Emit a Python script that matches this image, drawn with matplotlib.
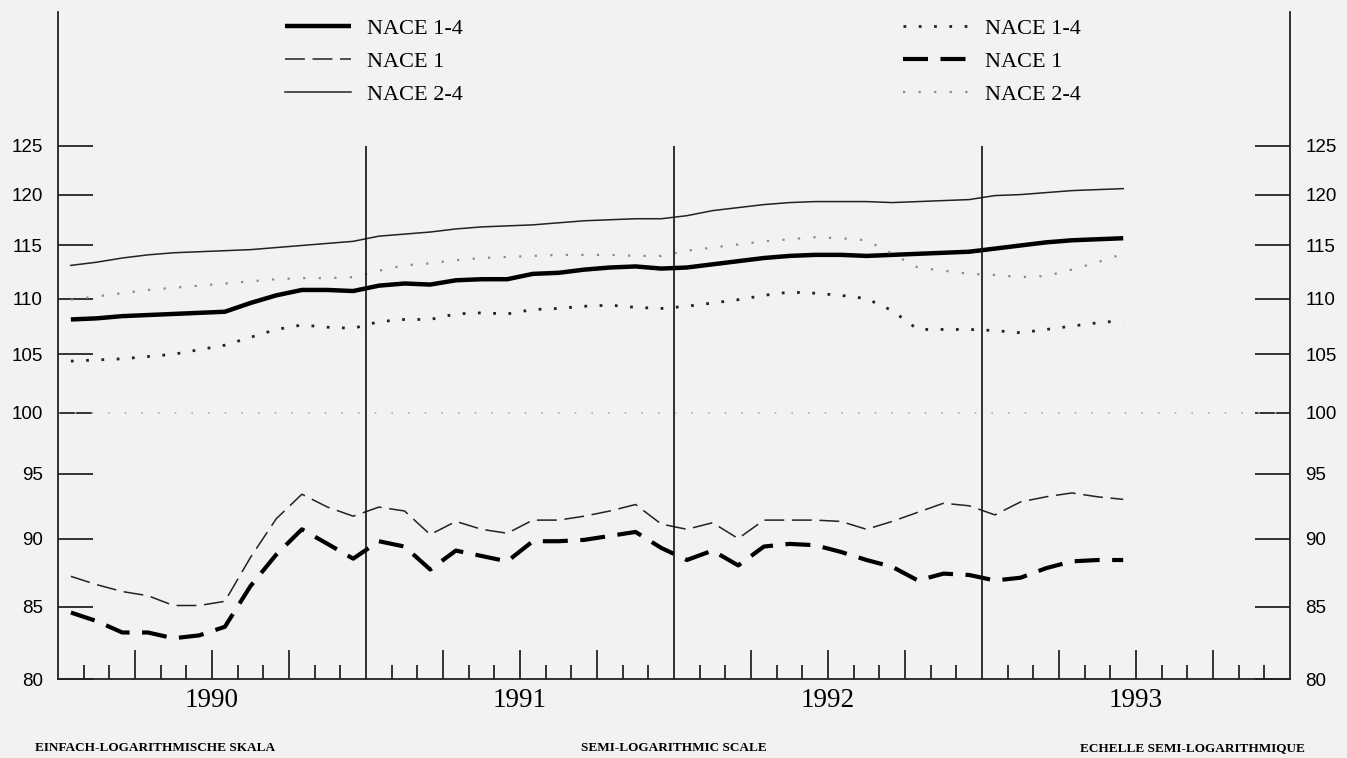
import numpy as np
import matplotlib
matplotlib.use("Agg")
import matplotlib.pyplot as plt
from matplotlib.ticker import FixedLocator, NullFormatter

# ── data: monthly index values, Jan 1990 .. Jun 1993 ─────────────────
years = ["1990", "1991", "1992", "1993"]
series_labels = ["NACE 1-4", "NACE 1", "NACE 2-4"]
y_ticks = [80, 85, 90, 95, 100, 105, 110, 115, 120, 125]

# group A (left legend): thick solid / thin dashed / thin solid
a_nace14 = [108.1, 108.2, 108.4, 108.5, 108.6, 108.7, 108.8, 109.6, 110.3, 110.8,
            110.8, 110.7, 111.2, 111.4, 111.3, 111.7, 111.8, 111.8, 112.3, 112.4,
            112.7, 112.9, 113.0, 112.8, 112.9, 113.2, 113.5, 113.8, 114.0, 114.1,
            114.1, 114.0, 114.1, 114.2, 114.3, 114.4, 114.7, 115.0, 115.3, 115.5,
            115.6, 115.7]
a_nace1 = [87.2, 86.6, 86.1, 85.8, 85.1, 85.1, 85.4, 88.6, 91.5, 93.4,
           92.4, 91.7, 92.4, 92.1, 90.3, 91.3, 90.7, 90.4, 91.4, 91.4,
           91.7, 92.1, 92.6, 91.1, 90.7, 91.2, 90.0, 91.4, 91.4, 91.4,
           91.3, 90.7, 91.3, 92.0, 92.7, 92.5, 91.8, 92.8, 93.2, 93.5,
           93.2, 93.0]
a_nace24 = [113.1, 113.4, 113.8, 114.1, 114.3, 114.4, 114.5, 114.6, 114.8, 115.0,
            115.2, 115.4, 115.9, 116.1, 116.3, 116.6, 116.8, 116.9, 117.0, 117.2,
            117.4, 117.5, 117.6, 117.6, 117.9, 118.4, 118.7, 119.0, 119.2, 119.3,
            119.3, 119.3, 119.2, 119.3, 119.4, 119.5, 119.9, 120.0, 120.2, 120.4,
            120.5, 120.6]

# group B (right legend): dense dots / thick dashed / light dots
b_nace14 = [104.4, 104.5, 104.6, 104.8, 105.0, 105.4, 105.8, 106.5, 107.2, 107.6,
            107.4, 107.3, 107.9, 108.1, 108.1, 108.6, 108.7, 108.6, 109.0, 109.1,
            109.3, 109.4, 109.2, 109.1, 109.3, 109.6, 109.9, 110.3, 110.6, 110.5,
            110.3, 110.0, 108.9, 107.2, 107.2, 107.2, 107.1, 106.9, 107.2, 107.5,
            107.8, 108.0]
b_nace1 = [84.6, 84.0, 83.2, 83.2, 82.8, 83.0, 83.6, 86.5, 88.8, 90.7,
           89.6, 88.5, 89.8, 89.4, 87.7, 89.1, 88.7, 88.3, 89.8, 89.8,
           89.9, 90.2, 90.5, 89.3, 88.4, 89.1, 88.0, 89.4, 89.6, 89.5,
           89.0, 88.4, 87.9, 86.9, 87.4, 87.3, 86.9, 87.1, 87.8, 88.3,
           88.4, 88.4]
b_nace24 = [109.9, 110.2, 110.5, 110.8, 111.0, 111.2, 111.4, 111.6, 111.8, 111.9,
            111.9, 112.0, 112.6, 113.1, 113.3, 113.6, 113.8, 113.9, 114.0, 114.1,
            114.1, 114.1, 114.0, 114.0, 114.5, 114.8, 115.1, 115.4, 115.6, 115.8,
            115.7, 115.5, 114.2, 112.9, 112.6, 112.3, 112.2, 112.0, 112.1, 112.7,
            113.4, 114.2]

months = np.arange(len(a_nace14)) + 0.5   # plotted at month centres
n_months = 12 * len(years)

bg = "#f2f2f2"
serif = ["Liberation Serif", "DejaVu Serif"]
sans = ["Liberation Sans", "DejaVu Sans"]

fig = plt.figure(figsize=(13.47, 7.58), dpi=100, facecolor=bg)
ax = fig.add_axes([0.0431, 0.1037, 0.9146, 0.8805], facecolor=bg)

# ── lines ────────────────────────────────────────────────────────────
la1, = ax.plot(months, a_nace14, color="black", lw=3.2, solid_capstyle="butt")
la2, = ax.plot(months, a_nace1, color="#222222", lw=1.1, dashes=(13, 5))
la3, = ax.plot(months, a_nace24, color="#222222", lw=1.1)
lb1, = ax.plot(months, b_nace14, color="#222222", lw=2.0, ls=(0, (1, 4.5)))
lb2, = ax.plot(months, b_nace1, color="black", lw=3.0, dashes=(6, 3),
               dash_capstyle="butt")
lb3, = ax.plot(months, b_nace24, color="#8a8a8a", lw=1.6, ls=(0, (1, 6)))

ax.axhline(100, color="#b0b0b0", lw=1.2, ls=(0, (1, 9)))
ax.vlines([12, 24, 36], 80, 125, color="#111111", lw=1.2)

# ── axes / scales ────────────────────────────────────────────────────
ax.set_yscale("log")
ax.set_ylim(80, 139.8)
ax.set_xlim(0, n_months)

ax.yaxis.set_major_locator(FixedLocator(y_ticks))
ax.yaxis.set_minor_locator(FixedLocator([]))
ax.set_yticklabels([str(t) for t in y_ticks])
ax.yaxis.set_minor_formatter(NullFormatter())
ax.tick_params(axis="y", which="both", direction="in", length=25, width=1.1,
               left=True, right=True, labelleft=True, labelright=True,
               pad=11, labelsize=13.5)
for lab in ax.get_yticklabels():
    lab.set_family(sans)

quarters = [q for q in range(3, n_months, 3) if q % 12 != 0]
ax.xaxis.set_major_locator(FixedLocator(quarters))
ax.set_xticklabels([years[q // 12] if q % 12 == 6 else "" for q in quarters],
                   family=serif, fontsize=19.5)
ax.xaxis.set_minor_locator(FixedLocator([m for m in range(1, n_months) if m % 3]))
ax.tick_params(axis="x", which="major", direction="in", length=21, width=1.1, pad=6)
ax.tick_params(axis="x", which="minor", direction="in", length=10, width=1.1)

ax.spines["top"].set_visible(False)
for s in ("left", "right", "bottom"):
    ax.spines[s].set_linewidth(1.3)
    ax.spines[s].set_color("#222222")

# ── legends ──────────────────────────────────────────────────────────
leg_kw = dict(frameon=False, handlelength=3.0, handletextpad=0.7,
              labelspacing=0.55, borderpad=0, borderaxespad=0,
              prop={"family": serif, "size": 16})
leg1 = ax.legend([la1, la2, la3], series_labels, loc="upper left",
                 bbox_to_anchor=(0.184, 0.99), **leg_kw)
ax.add_artist(leg1)
ax.legend([lb1, lb2, lb3], series_labels, loc="upper left",
          bbox_to_anchor=(0.686, 0.99), **leg_kw)

# ── bottom captions ──────────────────────────────────────────────────
cap_kw = dict(family=serif, fontsize=9.5, fontweight="bold", va="center")
fig.text(35 / 1347, 1 - 748 / 758, "EINFACH-LOGARITHMISCHE SKALA", ha="left", **cap_kw)
fig.text(674 / 1347, 1 - 748 / 758, "SEMI-LOGARITHMIC SCALE", ha="center", **cap_kw)
fig.text(1305 / 1347, 1 - 748 / 758, "ECHELLE SEMI-LOGARITHMIQUE", ha="right", **cap_kw)

fig.savefig("out.png", dpi=100, facecolor=bg)
